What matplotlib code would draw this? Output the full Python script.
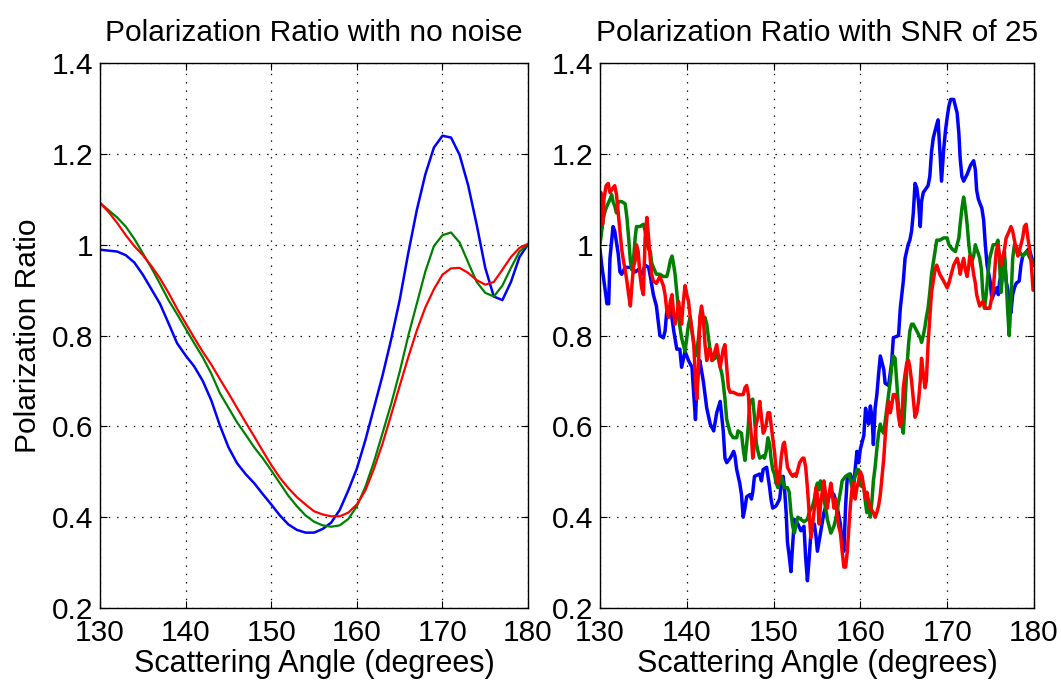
import matplotlib
matplotlib.use('Agg')
import matplotlib.pyplot as plt

plt.rcParams['font.family'] = ['Liberation Sans', 'DejaVu Sans']
plt.rcParams['lines.scale_dashes'] = False

# scattering angle grid of the noise-free curves (degrees)
angle = list(range(130, 181))

blue_clean = [0.989, 0.987, 0.985, 0.977, 0.961, 0.934, 0.902, 0.870, 0.827, 0.783,
              0.756, 0.732, 0.700, 0.657, 0.602, 0.554, 0.519, 0.495, 0.475, 0.451,
              0.428, 0.404, 0.384, 0.372, 0.366, 0.366, 0.374, 0.388, 0.416, 0.459,
              0.507, 0.570, 0.641, 0.712, 0.791, 0.878, 0.981, 1.076, 1.155, 1.214,
              1.240, 1.236, 1.198, 1.131, 1.044, 0.949, 0.886, 0.878, 0.918, 0.973,
              1.001]
green_clean = [1.092, 1.076, 1.060, 1.040, 1.013, 0.981, 0.949, 0.914, 0.878, 0.847,
               0.815, 0.783, 0.752, 0.716, 0.673, 0.641, 0.609, 0.582, 0.554, 0.530,
               0.503, 0.475, 0.447, 0.424, 0.404, 0.390, 0.382, 0.379, 0.382, 0.396,
               0.424, 0.467, 0.522, 0.585, 0.649, 0.720, 0.799, 0.870, 0.941, 0.997,
               1.021, 1.027, 1.005, 0.961, 0.918, 0.894, 0.886, 0.910, 0.949, 0.985,
               1.001]
red_clean = [1.092, 1.072, 1.048, 1.021, 0.997, 0.977, 0.953, 0.926, 0.894, 0.859,
             0.827, 0.795, 0.764, 0.736, 0.704, 0.673, 0.641, 0.609, 0.578, 0.546,
             0.515, 0.487, 0.464, 0.444, 0.428, 0.413, 0.406, 0.402, 0.402, 0.410,
             0.428, 0.459, 0.507, 0.562, 0.625, 0.689, 0.752, 0.811, 0.862, 0.902,
             0.934, 0.948, 0.949, 0.938, 0.922, 0.912, 0.918, 0.945, 0.973, 0.993,
             1.002]

# SNR 25 curves, (angle, ratio)
blue_snr = [(130.0, 0.99), (130.2, 0.955), (130.6, 0.90), (130.8, 0.87), (131.0, 0.87),
            (131.15, 0.97), (131.35, 1.01), (131.5, 1.04), (131.7, 1.03), (132.1, 0.98),
            (132.3, 0.94), (132.5, 0.935), (132.9, 0.95), (133.3, 0.95), (133.65, 0.95),
            (134.05, 0.94), (134.4, 0.945), (134.8, 0.935), (135.2, 0.955), (135.6, 0.95),
            (135.8, 0.93), (136.15, 0.89), (136.5, 0.865), (136.9, 0.80), (137.3, 0.795),
            (137.5, 0.81), (137.7, 0.855), (138.1, 0.865), (138.5, 0.81), (138.85, 0.77),
            (139.2, 0.77), (139.4, 0.73), (139.8, 0.765), (140.2, 0.745), (140.6, 0.73),
            (140.8, 0.67), (141.0, 0.615), (141.15, 0.685), (141.35, 0.725), (141.5, 0.745),
            (141.9, 0.70), (142.3, 0.64), (142.7, 0.605), (143.1, 0.59), (143.45, 0.63),
            (143.85, 0.655), (144.2, 0.59), (144.4, 0.53), (144.6, 0.52), (145.0, 0.53),
            (145.4, 0.545), (145.55, 0.535), (145.75, 0.505), (146.1, 0.475), (146.3, 0.45),
            (146.5, 0.40), (146.7, 0.42), (146.9, 0.445), (147.3, 0.45), (147.45, 0.44),
            (147.6, 0.455), (147.8, 0.49), (148.4, 0.495), (148.6, 0.48), (148.8, 0.505),
            (149.2, 0.51), (149.35, 0.49), (149.55, 0.465), (149.7, 0.44), (149.9, 0.42),
            (150.3, 0.425), (150.7, 0.44), (150.9, 0.475), (151.1, 0.49), (151.25, 0.465),
            (151.45, 0.41), (151.6, 0.345), (151.8, 0.315), (152.0, 0.28), (152.2, 0.34),
            (152.4, 0.395), (152.8, 0.385), (153.15, 0.37), (153.5, 0.38), (153.7, 0.31),
            (153.9, 0.26), (154.1, 0.31), (154.3, 0.365), (154.7, 0.385), (154.9, 0.355),
            (155.05, 0.325), (155.4, 0.365), (155.8, 0.41), (156.2, 0.435), (156.6, 0.455),
            (156.95, 0.45), (157.3, 0.425), (157.7, 0.385), (157.9, 0.34), (158.1, 0.325),
            (158.3, 0.425), (158.5, 0.49), (158.85, 0.495), (159.2, 0.465), (159.4, 0.505),
            (159.6, 0.545), (159.8, 0.52), (160.0, 0.55), (160.4, 0.58), (160.6, 0.64),
            (160.75, 0.62), (160.95, 0.605), (161.15, 0.645), (161.35, 0.62), (161.5, 0.56),
            (161.7, 0.64), (161.9, 0.67), (162.1, 0.715), (162.3, 0.755), (162.7, 0.725),
            (162.85, 0.695), (163.25, 0.69), (163.6, 0.74), (163.8, 0.795), (164.4, 0.80),
            (164.6, 0.86), (164.8, 0.895), (164.95, 0.92), (165.15, 0.97), (165.5, 1.00),
            (165.7, 1.01), (165.9, 1.03), (166.1, 1.07), (166.3, 1.135), (166.5, 1.125),
            (166.7, 1.095), (166.9, 1.04), (167.05, 1.095), (167.25, 1.115), (167.8, 1.13),
            (168.0, 1.15), (168.2, 1.205), (168.4, 1.235), (168.8, 1.265), (168.95, 1.275),
            (169.15, 1.21), (169.35, 1.14), (169.6, 1.21), (169.8, 1.25), (170.0, 1.28),
            (170.2, 1.305), (170.4, 1.32), (170.75, 1.32), (171.15, 1.29), (171.35, 1.245),
            (171.5, 1.19), (171.7, 1.15), (171.9, 1.14), (172.3, 1.155), (172.7, 1.175),
            (173.05, 1.185), (173.25, 1.165), (173.4, 1.12), (173.6, 1.10), (174.0, 1.08),
            (174.2, 1.055), (174.4, 1.00), (174.6, 0.955), (174.8, 0.935), (174.95, 0.92),
            (175.15, 0.88), (175.35, 0.89), (175.7, 0.905), (175.9, 0.89), (176.05, 0.92),
            (176.4, 0.945), (176.6, 0.97), (176.8, 0.92), (177.0, 0.90), (177.15, 0.865),
            (177.35, 0.85), (177.55, 0.89), (177.75, 0.905), (177.95, 0.915), (178.3, 0.92),
            (178.5, 0.955), (178.7, 0.975), (179.15, 0.985), (179.35, 0.99), (179.55, 0.985),
            (179.75, 0.97), (180.0, 0.955)]

green_snr = [(130.0, 1.00), (130.2, 1.03), (130.4, 1.06), (130.6, 1.075), (130.8, 1.085),
             (131.15, 1.10), (131.35, 1.11), (131.5, 1.095), (131.7, 1.085), (131.9, 1.07),
             (132.1, 1.095), (132.5, 1.095), (132.9, 1.09), (133.1, 1.06), (133.3, 1.015),
             (133.5, 0.965), (133.65, 0.945), (133.85, 0.965), (134.05, 1.015), (134.2, 1.04),
             (134.6, 1.04), (135.0, 1.045), (135.2, 1.03), (135.4, 1.005), (135.6, 0.99),
             (135.8, 0.985), (135.95, 0.96), (136.15, 0.95), (136.5, 0.935), (136.9, 0.935),
             (137.3, 0.93), (137.7, 0.93), (137.9, 0.945), (138.1, 0.965), (138.3, 0.975),
             (138.45, 0.96), (138.65, 0.935), (138.85, 0.895), (139.05, 0.855), (139.2, 0.82),
             (139.4, 0.795), (139.6, 0.78), (139.8, 0.765), (140.0, 0.795), (140.2, 0.825),
             (140.4, 0.84), (140.6, 0.81), (140.8, 0.78), (141.0, 0.755), (141.15, 0.765),
             (141.35, 0.795), (141.5, 0.825), (141.7, 0.84), (142.1, 0.84), (142.3, 0.825),
             (142.5, 0.795), (142.7, 0.765), (142.9, 0.745), (143.25, 0.75), (143.45, 0.765),
             (143.85, 0.73), (144.05, 0.715), (144.2, 0.695), (144.4, 0.66), (144.6, 0.615),
             (145.0, 0.585), (145.35, 0.575), (145.75, 0.575), (145.9, 0.59), (146.3, 0.585),
             (146.5, 0.55), (146.7, 0.525), (146.9, 0.56), (147.1, 0.605), (147.25, 0.655),
             (147.6, 0.66), (147.8, 0.62), (148.0, 0.565), (148.2, 0.545), (148.4, 0.53),
             (148.8, 0.535), (148.95, 0.53), (149.15, 0.545), (149.35, 0.575), (149.55, 0.56),
             (149.7, 0.53), (149.9, 0.505), (150.1, 0.495), (150.3, 0.475), (150.5, 0.465),
             (150.7, 0.48), (150.9, 0.49), (151.25, 0.465), (151.6, 0.465), (151.8, 0.455),
             (152.0, 0.41), (152.2, 0.38), (152.4, 0.365), (152.6, 0.385), (152.8, 0.40),
             (153.15, 0.395), (153.5, 0.39), (153.9, 0.395), (154.1, 0.41), (154.5, 0.425),
             (154.7, 0.44), (154.9, 0.465), (155.05, 0.475), (155.25, 0.46), (155.4, 0.48),
             (155.6, 0.465), (155.8, 0.44), (156.0, 0.42), (156.2, 0.395), (156.4, 0.38),
             (156.6, 0.365), (156.95, 0.38), (157.15, 0.395), (157.3, 0.41), (157.5, 0.435),
             (157.7, 0.455), (157.9, 0.48), (158.3, 0.49), (158.7, 0.495), (159.05, 0.465),
             (159.4, 0.49), (159.6, 0.505), (159.8, 0.505), (160.0, 0.47), (160.4, 0.465),
             (160.6, 0.43), (160.75, 0.41), (160.95, 0.43), (161.15, 0.40), (161.35, 0.44),
             (161.5, 0.48), (161.7, 0.51), (161.9, 0.55), (162.1, 0.585), (162.3, 0.605),
             (162.5, 0.59), (162.7, 0.585), (162.85, 0.61), (163.05, 0.64), (163.25, 0.67),
             (163.45, 0.70), (163.6, 0.73), (163.8, 0.755), (164.0, 0.75), (164.2, 0.695),
             (164.4, 0.64), (164.6, 0.63), (164.8, 0.60), (164.95, 0.585), (165.15, 0.655),
             (165.35, 0.725), (165.55, 0.78), (165.7, 0.81), (165.9, 0.825), (166.1, 0.825),
             (166.5, 0.81), (166.9, 0.795), (167.05, 0.785), (167.25, 0.80), (167.45, 0.82),
             (167.6, 0.84), (167.8, 0.86), (168.0, 0.895), (168.2, 0.935), (168.4, 0.96),
             (168.6, 0.985), (168.8, 1.01), (169.15, 1.01), (169.6, 1.015), (170.0, 1.015),
             (170.2, 1.00), (170.6, 0.99), (170.95, 0.985), (171.15, 1.00), (171.35, 1.015),
             (171.5, 1.045), (171.7, 1.08), (171.9, 1.105), (172.1, 1.08), (172.3, 1.045),
             (172.5, 1.00), (172.6, 0.985), (172.8, 0.96), (173.05, 0.975), (173.25, 1.00),
             (173.4, 0.99), (173.6, 0.98), (173.75, 0.97), (173.95, 0.945), (174.1, 0.895),
             (174.3, 0.86), (174.5, 0.89), (174.7, 0.935), (174.9, 0.97), (175.3, 1.00),
             (175.65, 1.00), (175.85, 1.01), (176.05, 0.955), (176.2, 0.895), (176.4, 0.935),
             (176.6, 0.985), (176.8, 0.92), (177.0, 0.845), (177.15, 0.80), (177.35, 0.875),
             (177.55, 0.97), (177.75, 1.00), (177.95, 0.995), (178.3, 0.985), (178.7, 0.975),
             (179.15, 0.985), (179.55, 0.97), (180.0, 0.96)]

red_snr = [(130.0, 1.08), (130.1, 1.115), (130.3, 1.045), (130.45, 1.10), (130.7, 1.13),
           (130.95, 1.135), (131.15, 1.115), (131.5, 1.125), (131.7, 1.13), (131.9, 1.11),
           (132.1, 1.07), (132.3, 1.03), (132.5, 0.99), (132.7, 0.965), (132.9, 0.945),
           (133.1, 0.92), (133.3, 0.89), (133.5, 0.865), (133.65, 0.905), (133.85, 0.95),
           (134.05, 0.965), (134.2, 1.00), (134.4, 0.985), (134.6, 0.935), (134.8, 0.905),
           (135.0, 0.89), (135.2, 1.015), (135.4, 1.06), (135.6, 1.015), (135.8, 0.965),
           (135.95, 0.935), (136.15, 0.92), (136.5, 0.915), (136.9, 0.93), (137.3, 0.91),
           (137.5, 0.89), (137.7, 0.855), (137.9, 0.84), (138.1, 0.875), (138.3, 0.89),
           (138.45, 0.855), (138.65, 0.825), (138.85, 0.84), (139.05, 0.875), (139.2, 0.855),
           (139.4, 0.825), (139.6, 0.875), (139.8, 0.91), (140.0, 0.89), (140.2, 0.875),
           (140.4, 0.84), (140.6, 0.81), (140.8, 0.785), (141.0, 0.70), (141.15, 0.66),
           (141.35, 0.73), (141.5, 0.84), (141.7, 0.865), (141.9, 0.84), (142.1, 0.78),
           (142.3, 0.745), (142.5, 0.77), (142.7, 0.77), (142.9, 0.745), (143.1, 0.755),
           (143.45, 0.78), (143.65, 0.755), (143.85, 0.73), (144.2, 0.77), (144.4, 0.78),
           (144.6, 0.73), (144.8, 0.685), (145.0, 0.675), (145.35, 0.675), (145.9, 0.67),
           (146.5, 0.67), (146.7, 0.685), (146.9, 0.69), (147.1, 0.67), (147.25, 0.62),
           (147.45, 0.575), (147.6, 0.53), (147.8, 0.56), (148.0, 0.605), (148.2, 0.62),
           (148.4, 0.655), (148.6, 0.62), (148.8, 0.585), (148.95, 0.59), (149.15, 0.605),
           (149.35, 0.63), (149.55, 0.63), (149.7, 0.605), (149.9, 0.575), (150.1, 0.545),
           (150.3, 0.505), (150.5, 0.475), (150.7, 0.495), (150.9, 0.535), (151.1, 0.56),
           (151.25, 0.565), (151.45, 0.535), (151.6, 0.51), (152.0, 0.495), (152.2, 0.49),
           (152.4, 0.495), (152.6, 0.49), (152.8, 0.505), (153.0, 0.52), (153.35, 0.53),
           (153.5, 0.53), (153.7, 0.51), (153.9, 0.465), (154.1, 0.41), (154.3, 0.355),
           (154.5, 0.385), (154.7, 0.42), (154.9, 0.465), (155.05, 0.45), (155.25, 0.385),
           (155.4, 0.425), (155.6, 0.455), (155.8, 0.48), (156.0, 0.45), (156.2, 0.42),
           (156.4, 0.45), (156.6, 0.475), (156.75, 0.455), (156.95, 0.42), (157.15, 0.44),
           (157.3, 0.41), (157.5, 0.38), (157.7, 0.365), (157.9, 0.325), (158.1, 0.29),
           (158.3, 0.29), (158.5, 0.325), (158.7, 0.385), (158.85, 0.425), (159.05, 0.465),
           (159.2, 0.475), (159.4, 0.44), (159.6, 0.465), (159.8, 0.48), (160.0, 0.50),
           (160.2, 0.49), (160.4, 0.465), (160.6, 0.44), (160.75, 0.455), (160.95, 0.435),
           (161.15, 0.42), (161.5, 0.41), (161.7, 0.40), (161.9, 0.41), (162.1, 0.425),
           (162.3, 0.45), (162.5, 0.49), (162.7, 0.53), (162.85, 0.575), (163.05, 0.62),
           (163.25, 0.655), (163.45, 0.63), (163.6, 0.645), (163.8, 0.67), (164.0, 0.67),
           (164.2, 0.66), (164.4, 0.62), (164.6, 0.60), (164.8, 0.62), (164.95, 0.685),
           (165.15, 0.715), (165.35, 0.74), (165.55, 0.745), (165.7, 0.73), (165.9, 0.70),
           (166.1, 0.66), (166.3, 0.62), (166.5, 0.63), (166.7, 0.655), (166.9, 0.70),
           (167.05, 0.75), (167.25, 0.715), (167.45, 0.685), (167.6, 0.70), (167.8, 0.78),
           (168.0, 0.84), (168.2, 0.895), (168.4, 0.92), (168.6, 0.945), (168.8, 0.955),
           (169.15, 0.935), (169.6, 0.92), (170.0, 0.905), (170.2, 0.915), (170.4, 0.93),
           (170.75, 0.955), (171.15, 0.97), (171.35, 0.955), (171.5, 0.935), (171.7, 0.955),
           (171.9, 0.97), (172.1, 0.945), (172.3, 0.93), (172.5, 0.955), (172.6, 0.975),
           (172.8, 0.97), (173.05, 0.935), (173.25, 0.915), (173.4, 0.89), (173.6, 0.875),
           (173.75, 0.865), (174.1, 0.875), (174.3, 0.865), (174.5, 0.86), (174.9, 0.86),
           (175.1, 0.88), (175.3, 0.90), (175.45, 0.935), (175.65, 0.985), (175.85, 1.00),
           (176.05, 0.975), (176.2, 0.955), (176.4, 0.97), (176.6, 0.99), (176.8, 1.015),
           (177.15, 1.03), (177.35, 1.04), (177.55, 1.03), (177.75, 1.01), (177.95, 0.99),
           (178.15, 0.975), (178.3, 0.985), (178.5, 1.00), (178.7, 1.015), (178.9, 1.04),
           (179.1, 1.045), (179.3, 1.015), (179.5, 0.99), (179.7, 0.955), (179.9, 0.90),
           (180.0, 0.90)]

x_ticks = [130, 140, 150, 160, 170, 180]
y_ticks = [0.2, 0.4, 0.6, 0.8, 1.0, 1.2, 1.4]
y_tick_labels = ['0.2', '0.4', '0.6', '0.8', '1', '1.2', '1.4']

BLUE = (0, 0, 1)
GREEN = (0, 0.5, 0)
RED = (1, 0, 0)


def style_axes(ax, title):
    ax.set_xlim(130, 180)
    ax.set_ylim(0.2, 1.4)
    ax.set_xticks(x_ticks)
    ax.set_yticks(y_ticks)
    ax.set_yticklabels(y_tick_labels)
    ax.tick_params(direction='in', length=5, width=0.8, top=True, right=True,
                   labelsize=21.5, colors='black')
    ax.tick_params(axis='x', pad=8)
    ax.tick_params(axis='y', pad=5)
    ax.grid(True, color='black', linestyle=(0, (1, 5)), linewidth=0.9)
    for s in ax.spines.values():
        s.set_linewidth(1.0)
        s.set_color('black')
    ax.set_title(title, fontsize=21.5, pad=16)
    ax.set_xlabel('Scattering Angle (degrees)', fontsize=22)
    ax.xaxis.set_label_coords(0.5, -0.075)


fig = plt.figure(figsize=(10.61, 6.82), dpi=100)

ax1 = fig.add_axes([0.0943, 0.1085, 0.4034, 0.799])
ax1.plot(angle, blue_clean, color=BLUE, lw=1.8)
ax1.plot(angle, green_clean, color=GREEN, lw=1.6)
ax1.plot(angle, red_clean, color=RED, lw=1.6)
style_axes(ax1, 'Polarization Ratio with no noise')
ax1.set_ylabel('Polarization Ratio', fontsize=21.5)
ax1.yaxis.set_label_coords(-0.135, 0.5)

ax2 = fig.add_axes([0.5655, 0.1085, 0.409, 0.799])
for pts, c in [(blue_snr, BLUE), (green_snr, GREEN), (red_snr, RED)]:
    xs = [p[0] for p in pts]
    ys = [p[1] for p in pts]
    ax2.plot(xs, ys, color=c, lw=2.5)
style_axes(ax2, 'Polarization Ratio with SNR of 25')

fig.savefig('out.png', dpi=100)
